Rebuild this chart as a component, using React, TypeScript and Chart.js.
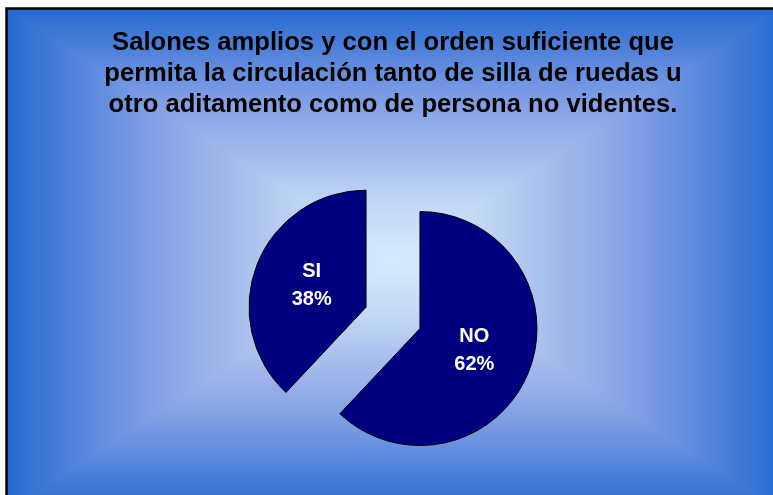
import React, { useEffect, useRef } from 'react';
import { Chart, registerables } from 'chart.js';

Chart.register(...registerables);

const titleLines = [
  'Salones amplios y con el orden suficiente que',
  'permita la circulación tanto de silla de ruedas u',
  'otro aditamento como de persona no videntes.',
];
const categories = ['NO', 'SI'];
const values = [62, 38];
const sliceColors = ['#000080', '#000080'];
const explodeOffsets = [116, 116];
const PIE_RADIUS = 117;

const FONT = '"Liberation Sans", Arial, Helvetica, sans-serif';

const gradStops: [number, number[]][] = [
  [0, [214, 236, 252]],
  [0.2, [196, 218, 246]],
  [0.45, [160, 182, 234]],
  [0.65, [124, 156, 228]],
  [0.85, [76, 127, 217]],
  [1, [34, 106, 207]],
];

function colorAt(t: number): number[] {
  if (t <= 0) return gradStops[0][1];
  for (let i = 1; i < gradStops.length; i++) {
    const [o1, c1] = gradStops[i];
    const [o0, c0] = gradStops[i - 1];
    if (t <= o1) {
      const f = (t - o0) / (o1 - o0);
      return [0, 1, 2].map((k) => c0[k] + (c1[k] - c0[k]) * f);
    }
  }
  return gradStops[gradStops.length - 1][1];
}

let bgCache: HTMLCanvasElement | null = null;

const backgroundPlugin = {
  id: 'rectGradientBg',
  beforeDraw(chart: any) {
    const { ctx, width, height } = chart;
    const L = 6, T = 8, R = 782, B = 512;
    if (!bgCache || bgCache.width !== width || bgCache.height !== height) {
      const c = document.createElement('canvas');
      c.width = width;
      c.height = height;
      const cctx = c.getContext('2d')!;
      const img = cctx.createImageData(width, height);
      const cx = (L + R) / 2, cy = (T + B) / 2;
      const hw = (R - L) / 2, hh = (B - T) / 2;
      for (let py = 0; py < height; py++) {
        for (let px = 0; px < width; px++) {
          const idx = (py * width + px) * 4;
          if (px < L || py < T) {
            img.data[idx] = 255; img.data[idx + 1] = 255; img.data[idx + 2] = 255; img.data[idx + 3] = 255;
            continue;
          }
          const t = Math.max(Math.abs(px + 0.5 - cx) / hw, Math.abs(py + 0.5 - cy) / hh);
          const col = colorAt(t);
          img.data[idx] = col[0]; img.data[idx + 1] = col[1]; img.data[idx + 2] = col[2]; img.data[idx + 3] = 255;
        }
      }
      cctx.putImageData(img, 0, 0);
      bgCache = c;
    }
    ctx.save();
    ctx.drawImage(bgCache, 0, 0);
    ctx.strokeStyle = '#000000';
    ctx.lineWidth = 2.5;
    ctx.beginPath();
    ctx.moveTo(L + 0.5, height + 5);
    ctx.lineTo(L + 0.5, T + 0.5);
    ctx.lineTo(width + 5, T + 0.5);
    ctx.stroke();
    ctx.restore();
  },
};

// Chart.js enlarges exploded arcs by (offset/4)*fix and trims their angle a little;
// compensate so every slice keeps the same radius and its true angular extent.
function radiusFix(circumference: number) {
  return 1 - Math.sin(Math.min(Math.PI, circumference || 0));
}

const equalRadiusPlugin = {
  id: 'equalRadius',
  afterDatasetUpdate(chart: any, args: any) {
    const meta = chart.getDatasetMeta(args.index);
    meta.data.forEach((arc: any) => {
      const off = (arc.options && arc.options.offset) || 0;
      const radiusOffset = (off / 4) * radiusFix(arc.circumference);
      arc.outerRadius = PIE_RADIUS - radiusOffset;
      const widen = radiusOffset / (2 * Math.PI * PIE_RADIUS);
      arc.startAngle -= widen;
      arc.endAngle += widen;
    });
  },
};

const sliceLabelPlugin = {
  id: 'sliceLabels',
  afterDatasetsDraw(chart: any) {
    const { ctx } = chart;
    const meta = chart.getDatasetMeta(0);
    const total = values.reduce((a, b) => a + b, 0);
    ctx.save();
    ctx.fillStyle = '#ffffff';
    ctx.font = `bold 20px ${FONT}`;
    ctx.textAlign = 'center';
    ctx.textBaseline = 'middle';
    meta.data.forEach((arc: any, i: number) => {
      const { x, y, startAngle, endAngle, circumference } = arc.getProps(
        ['x', 'y', 'startAngle', 'endAngle', 'circumference'],
        true
      );
      const off = arc.options.offset || 0;
      const disp = off / 4;
      const effR = arc.outerRadius + disp * radiusFix(circumference);
      const mid = (startAngle + endAngle) / 2;
      const r = disp + effR * 0.5;
      const lx = x + Math.cos(mid) * r;
      const ly = y + Math.sin(mid) * r;
      const pct = Math.round((values[i] / total) * 100);
      ctx.fillText(categories[i], lx, ly - 14);
      ctx.fillText(`${pct}%`, lx, ly + 14);
    });
    ctx.restore();
  },
};

export default function App() {
  const canvasRef = useRef<HTMLCanvasElement | null>(null);

  useEffect(() => {
    if (!canvasRef.current) return;
    const chart = new Chart(canvasRef.current, {
      type: 'pie',
      data: {
        labels: categories,
        datasets: [
          {
            data: values,
            backgroundColor: sliceColors,
            borderColor: '#000000',
            borderWidth: 1,
            offset: explodeOffsets,
            radius: PIE_RADIUS,
          } as any,
        ],
      },
      options: {
        responsive: false,
        animation: false,
        layout: { padding: { left: 13, right: 0, top: 0, bottom: 0 } },
        plugins: {
          legend: { display: false },
          tooltip: { enabled: false },
          title: {
            display: true,
            text: titleLines,
            color: '#000000',
            font: { family: FONT, size: 25.6, weight: 'bold', lineHeight: 1.22 },
            padding: { top: 27, bottom: 20 },
          },
        },
      } as any,
      plugins: [backgroundPlugin, equalRadiusPlugin, sliceLabelPlugin],
    });
    return () => chart.destroy();
  }, []);

  return (
    <div style={{ position: 'absolute', left: 0, top: 0, width: 773, height: 495, background: '#ffffff' }}>
      <canvas ref={canvasRef} width={773} height={495} style={{ display: 'block', width: 773, height: 495 }} />
    </div>
  );
}
